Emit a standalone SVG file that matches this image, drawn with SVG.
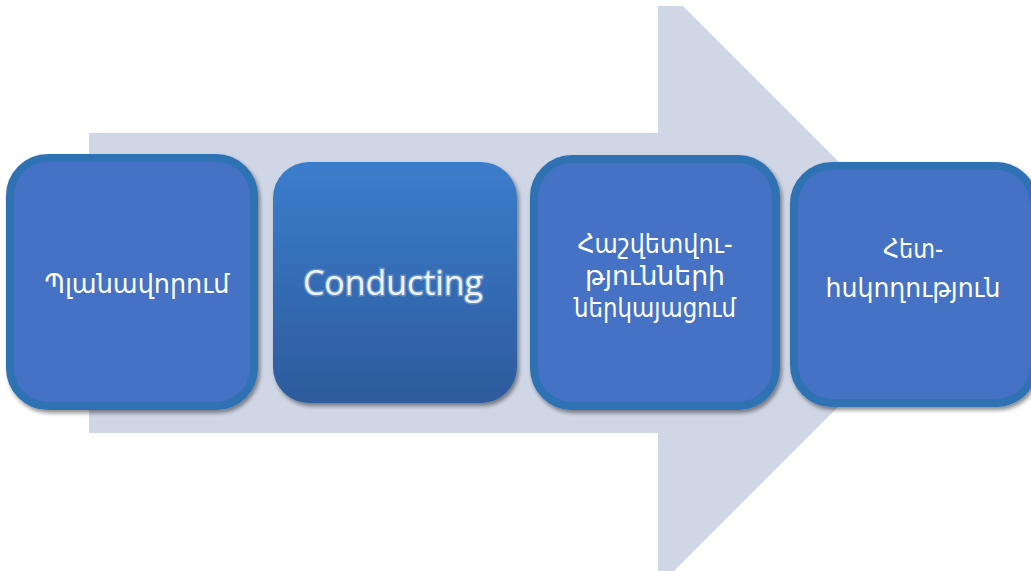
<svg xmlns="http://www.w3.org/2000/svg" width="1031" height="571" viewBox="0 0 1031 571">
<defs>
<linearGradient id="g2" x1="0" y1="0" x2="0" y2="1">
<stop offset="0" stop-color="#3B7DCC"/>
<stop offset="1" stop-color="#2D5B9C"/>
</linearGradient>
<filter id="sh" x="-10%" y="-10%" width="125%" height="125%">
<feGaussianBlur in="SourceAlpha" stdDeviation="2"/>
<feOffset dx="2" dy="3"/>
<feComponentTransfer><feFuncA type="linear" slope="0.45"/></feComponentTransfer>
<feMerge><feMergeNode/><feMergeNode in="SourceGraphic"/></feMerge>
</filter>
<style>
.box{fill:#4472C4;stroke:#2E72B3;stroke-width:8}
.arm{font-family:"DejaVu Sans",sans-serif;font-size:26px;fill:#ffffff;text-anchor:middle}
.lat{font-family:"Open Sans","Liberation Sans",sans-serif;font-size:34px;fill:#EEF4FA;text-anchor:middle}
</style>
</defs>
<rect width="1031" height="571" fill="#ffffff"/>
<g id="arrow">
<polygon points="89,133 658,133 658,6 683,6 961,284 671,574 658,574 658,433 89,433" fill="#CFD6E6"/>
</g>
<g id="connectors"></g>
<g id="node1">
<rect class="box" x="10" y="158" width="244" height="248" rx="38" filter="url(#sh)"/>
<text class="arm" x="137" y="293" textLength="185" lengthAdjust="spacingAndGlyphs">Պլանավորում</text>
</g>
<g id="node2">
<rect x="273" y="162" width="244" height="241" rx="36" fill="url(#g2)" filter="url(#sh)"/>
<text class="lat" x="393" y="295" textLength="180" lengthAdjust="spacingAndGlyphs" stroke="#ffffff" stroke-opacity="0.25" stroke-width="3" paint-order="stroke">Conducting</text>
</g>
<g id="node3">
<rect class="box" x="534" y="159" width="242" height="247" rx="38" filter="url(#sh)"/>
<text class="arm" x="655" y="253" textLength="155" lengthAdjust="spacingAndGlyphs">Հաշվետվու-</text>
<text class="arm" x="655" y="285" textLength="140" lengthAdjust="spacingAndGlyphs">թյունների</text>
<text class="arm" x="655" y="317" textLength="162" lengthAdjust="spacingAndGlyphs">ներկայացում</text>
</g>
<g id="node4">
<rect class="box" x="794" y="166" width="240" height="237" rx="38" filter="url(#sh)"/>
<text class="arm" x="913" y="258" textLength="60" lengthAdjust="spacingAndGlyphs">Հետ-</text>
<text class="arm" x="913" y="297" textLength="175" lengthAdjust="spacingAndGlyphs">հսկողություն</text>
</g>
</svg>
